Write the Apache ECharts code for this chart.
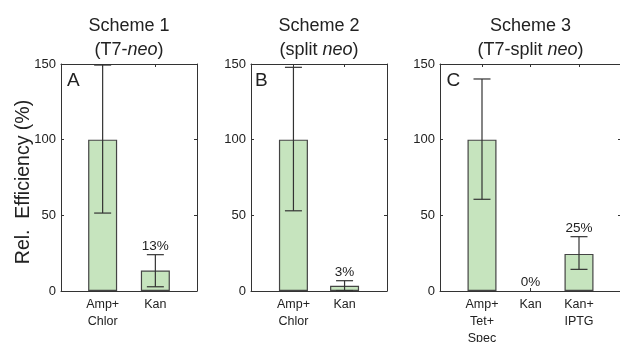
<!DOCTYPE html>
<html>
<head>
<meta charset="utf-8">
<script src="https://cdn.jsdelivr.net/npm/echarts@6/dist/echarts.min.js"></script>
<style>html,body{margin:0;padding:0;background:#fff}#c{width:620px;height:342px}</style>
</head>
<body>
<div id="c"></div>
<script>
// ---- data ----
const titles = ['Scheme 1', 'Scheme 2', 'Scheme 3'];
const subtitles = [['(T7-', 'neo', ')'], ['(split ', 'neo', ')'], ['(T7-split ', 'neo', ')']];
const letters = ['A', 'B', 'C'];
const yLabel = 'Rel.  Efficiency (%)';

const cats1 = ['Amp+\nChlor', 'Kan'];
const vals1 = [100, 13.5];
const errLo1 = [51.5, 2.8];
const errHi1 = [149.3, 24];
const pct1 = [null, '13%'];

const cats2 = ['Amp+\nChlor', 'Kan'];
const vals2 = [100, 3.5];
const errLo2 = [53, 0.3];
const errHi2 = [147.8, 6.8];
const pct2 = [null, '3%'];

const cats3 = ['Amp+\nTet+\nSpec', 'Kan', 'Kan+\nIPTG'];
const vals3 = [100, 0, 24.5];
const errLo3 = [60.6, null, 14.3];
const errHi3 = [140.1, null, 35.9];
const pct3 = [null, '0%', '25%'];

const panels = [
  { cats: cats1, vals: vals1, lo: errLo1, hi: errHi1, pct: pct1 },
  { cats: cats2, vals: vals2, lo: errLo2, hi: errHi2, pct: pct2 },
  { cats: cats3, vals: vals3, lo: errLo3, hi: errHi3, pct: pct3 }
];

// ---- layout ----
const FONT = '"Liberation Sans", Arial, Helvetica, sans-serif';
const gridBoxes = [
  { left: 61, width: 136, xmin: 0.21, xmax: 2.79, letterDx: 6 },
  { left: 251, width: 136, xmin: 0.17, xmax: 2.83, letterDx: 4 },
  { left: 440, width: 181, xmin: 0.134, xmax: 3.866, letterDx: 6.5 }
];
const GTOP = 64, GH = 227;
const AX = '#333';

const chart = echarts.init(document.getElementById('c'), null, { renderer: 'canvas' });

const grid = [], xAxis = [], yAxis = [], series = [], title = [], graphic = [];

panels.forEach((p, i) => {
  const g = gridBoxes[i];
  grid.push({ left: g.left, top: GTOP, width: g.width, height: GH, containLabel: false, outerBoundsMode: 'none' });
  const tickVals = p.cats.map((c, k) => k + 1);
  const common = {
    gridIndex: i, type: 'value', min: g.xmin, max: g.xmax,
    axisLine: { show: true, onZero: false, lineStyle: { color: AX, width: 1 } },
    splitLine: { show: false }
  };
  xAxis.push(Object.assign({}, common, {
    position: 'bottom',
    axisTick: { show: true, inside: true, length: 3, customValues: tickVals, lineStyle: { color: AX } },
    axisLabel: {
      show: true, customValues: tickVals, margin: 5,
      formatter: v => p.cats[Math.round(v) - 1] || '',
      fontSize: 12.5, lineHeight: 17, color: '#222', fontFamily: FONT
    }
  }));
  xAxis.push(Object.assign({}, common, {
    position: 'top',
    axisTick: { show: true, inside: true, length: 3, customValues: tickVals, lineStyle: { color: AX } },
    axisLabel: { show: false }
  }));
  const ycommon = {
    gridIndex: i, type: 'value', min: 0, max: 150, interval: 50,
    axisLine: { show: true, onZero: false, lineStyle: { color: AX, width: 1 } },
    axisTick: { show: true, inside: true, length: 3, lineStyle: { color: AX } },
    splitLine: { show: false }
  };
  yAxis.push(Object.assign({}, ycommon, {
    position: 'left',
    axisLabel: { show: true, margin: 5, fontSize: 13, color: '#222', fontFamily: FONT }
  }));
  yAxis.push(Object.assign({}, ycommon, { position: 'right', axisLabel: { show: false } }));

  series.push({
    type: 'bar', xAxisIndex: 2 * i, yAxisIndex: 2 * i,
    data: p.vals.map((v, k) => v === 0
      ? { value: [k + 1, v], itemStyle: { borderWidth: 0, opacity: 0 } }
      : { value: [k + 1, v] }),
    barWidth: 29, z: 2,
    itemStyle: { color: '#c6e4be', borderColor: '#444', borderWidth: 1.2 },
    silent: true
  });

  const pctArr = p.pct;
  series.push({
    type: 'custom', xAxisIndex: 2 * i, yAxisIndex: 2 * i,
    clip: false, silent: true, z: 5,
    data: p.vals.map((v, k) => [k + 1, p.lo[k] == null ? NaN : p.lo[k], p.hi[k] == null ? NaN : p.hi[k], v]),
    encode: { x: 0, y: [1, 2, 3] },
    renderItem: function (params, api) {
      const x = api.value(0), lo = api.value(1), hi = api.value(2), v = api.value(3);
      const children = [];
      const cap = 8.5;
      const ls = { stroke: '#333', lineWidth: 1.2 };
      const hasErr = !isNaN(lo) && !isNaN(hi) && lo !== null && hi !== null;
      if (hasErr) {
        const pH = api.coord([x, hi]);
        const pL = api.coord([x, lo]);
        children.push({ type: 'line', shape: { x1: pH[0], y1: pH[1], x2: pL[0], y2: pL[1] }, style: ls });
        children.push({ type: 'line', shape: { x1: pH[0] - cap, y1: pH[1], x2: pH[0] + cap, y2: pH[1] }, style: ls });
        children.push({ type: 'line', shape: { x1: pL[0] - cap, y1: pL[1], x2: pL[0] + cap, y2: pL[1] }, style: ls });
      }
      const label = pctArr[params.dataIndex];
      if (label) {
        const top = hasErr ? hi : v;
        const pt = api.coord([x, top]);
        children.push({
          type: 'text',
          style: {
            text: label, x: pt[0], y: pt[1] - 1.5, align: 'center', verticalAlign: 'bottom',
            font: '13.5px ' + FONT, fill: '#222'
          }
        });
      }
      return { type: 'group', children: children };
    }
  });

  title.push({
    left: g.left + g.width / 2,
    top: 14, textAlign: 'center', padding: 0,
    text: '{n|' + titles[i] + '}\n{n|' + subtitles[i][0] + '}{it|' + subtitles[i][1] + '}{n|' + subtitles[i][2] + '}',
    textStyle: {
      fontWeight: 'normal',
      rich: {
        n: { fontSize: 18, fontFamily: FONT, color: '#222', fontWeight: 'normal', lineHeight: 24 },
        it: { fontSize: 18, fontFamily: FONT, color: '#222', fontWeight: 'normal', fontStyle: 'italic', lineHeight: 24 }
      }
    }
  });

  graphic.push({
    type: 'text', left: g.left + g.letterDx, top: 71,
    style: { text: letters[i], font: '19px ' + FONT, fill: '#222' }
  });
});

graphic.push({
  type: 'text', x: 24, y: 182, rotation: Math.PI / 2,
  style: { text: yLabel, font: '19.5px ' + FONT, fill: '#222', align: 'center', verticalAlign: 'middle' }
});

chart.setOption({
  animation: false,
  backgroundColor: '#fff',
  title, grid, xAxis, yAxis, series, graphic
});
</script>
</body>
</html>
